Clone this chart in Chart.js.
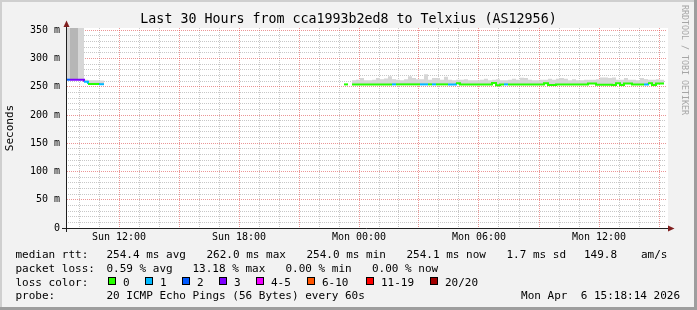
<!DOCTYPE html>
<html>
<head>
<meta charset="utf-8">
<title>Last 30 Hours from cca1993b2ed8 to Telxius (AS12956)</title>
<script src="https://cdn.jsdelivr.net/npm/chart.js@4.4.1/dist/chart.umd.min.js"></script>
<style>
  html, body { margin: 0; padding: 0; background: #f2f2f2; }
  canvas { display: block; }
</style>
</head>
<body>
<canvas id="smokeChart" width="697" height="310"></canvas>
<script>
const titleText = 'Last 30 Hours from cca1993b2ed8 to Telxius (AS12956)';

// sample start times in hours since Sun 00:00; a null value ends a run
const sampleHours = [
  9.40, 9.55, 9.95, 10.25, 10.45, 11.00, 11.25,
  23.25, 23.45,
  23.65, 23.85, 24.05, 24.25, 24.45, 24.65, 24.85, 25.05, 25.25, 25.45,
  25.65, 25.85, 26.05, 26.25, 26.45, 26.65, 26.85, 27.05, 27.25, 27.45,
  27.65, 27.85, 28.05, 28.25, 28.45, 28.65, 28.85, 29.05, 29.25, 29.45,
  29.65, 29.85, 30.05, 30.25, 30.45, 30.65, 30.85, 31.05, 31.25, 31.45,
  31.65, 31.85, 32.05, 32.25, 32.45, 32.65, 32.85, 33.05, 33.25, 33.45,
  33.65, 33.85, 34.05, 34.25, 34.45, 34.65, 34.85, 35.05, 35.25, 35.45,
  35.65, 35.85, 36.05, 36.25, 36.45, 36.65, 36.85, 37.05, 37.25, 37.45,
  37.65, 37.85, 38.05, 38.25, 38.45, 38.65, 38.85, 39.05,
  39.25
];

// median rtt in ms
const medianMs = [
  262.5, 262.5, 262.5, 259.0, 255.0, 254.5, null,
  254.2, null,
  254.2, 254.2, 254.2, 254.2, 254.2, 254.2, 254.2, 254.2, 254.2, 254.2,
  254.2, 254.2, 254.2, 254.2, 254.2, 254.2, 254.2, 254.2, 254.2, 254.2,
  254.2, 254.2, 254.2, 254.2, 254.2, 254.2, 256.0, 254.2, 254.2, 254.2,
  254.2, 254.2, 254.2, 254.2, 254.2, 256.5, 252.8, 254.2, 254.2, 254.2,
  254.2, 254.2, 254.2, 254.2, 254.2, 254.2, 254.2, 254.2, 256.0, 253.0,
  253.0, 254.2, 254.2, 254.2, 254.2, 254.2, 254.2, 254.2, 254.2, 255.8,
  255.8, 253.6, 253.6, 253.6, 253.6, 253.0, 256.0, 253.0, 255.8, 255.8,
  254.2, 254.2, 254.2, 254.2, 256.0, 253.0, 255.8, 255.8,
  null
];

// index into lossLabels / lossColors
const lossBucket = [
  2, 3, 3, 1, 0, 1, null,
  0, null,
  0, 0, 0, 0, 0, 0, 0, 0, 0, 0,
  1, 0, 0, 0, 0, 0, 0, 1, 1, 0,
  1, 0, 0, 0, 1, 1, 0, 0, 0, 0,
  0, 0, 0, 0, 0, 0, 0, 0, 1, 0,
  0, 0, 0, 0, 0, 0, 0, 0, 0, 0,
  0, 0, 0, 0, 0, 0, 0, 0, 0, 0,
  0, 0, 0, 0, 0, 0, 0, 0, 0, 0,
  0, 0, 0, 1, 0, 0, 0, 0,
  null
];

// top of the grey smoke in ms
const smokeMaxMs = [
  360, 360, 360, 262.5, 261.5, 261.0, null,
  null, null,
  261.5, 262.5, 265.5, 261.5, 261.5, 262.5, 265.5, 263.5, 264.5, 268.5,
  263.5, 262.5, 261.5, 263.5, 268.5, 265.5, 263.5, 263.5, 272.0, 262.5,
  265.5, 265.5, 262.5, 267.5, 262.5, 261.5, 262.5, 262.5, 263.5, 261.5,
  261.5, 261.5, 262.5, 264.0, 261.5, 262.5, 263.5, 261.5, 261.5, 262.5,
  264.0, 262.5, 266.0, 265.5, 262.5, 261.5, 261.5, 262.5, 262.5, 264.0,
  262.5, 264.0, 265.5, 264.0, 261.5, 263.5, 261.5, 261.5, 262.5, 262.5,
  262.5, 263.5, 266.5, 266.5, 265.5, 266.5, 262.5, 262.5, 265.5, 262.5,
  262.5, 261.5, 265.5, 263.5, 262.5, 262.5, 263.5, 262.5,
  null
];

// darker inner smoke, first run only
const smokeCoreMs = [null, 360, null, null, null, null, null];

const lossLabels = ['0', '1', '2', '3', '4-5', '6-10', '11-19', '20/20'];
const lossColors = ['#26ff00', '#00b8ff', '#0059ff', '#7e00ff', '#f000ff', '#ff5500', '#ff0000', '#a10000'];

const xLabelHours = [12, 18, 24, 30, 36];
const xTickLabels = ['Sun 12:00', 'Sun 18:00', 'Mon 00:00', 'Mon 06:00', 'Mon 12:00'];
const yLabelValues = [0, 50, 100, 150, 200, 250, 300, 350];
const yTickLabels = ['0', '50 m', '100 m', '150 m', '200 m', '250 m', '300 m', '350 m'];

const rttStats = ['254.4 ms avg', '262.0 ms max', '254.0 ms min', '254.1 ms now', '1.7 ms sd', '149.8', 'am/s'];
const lossStats = ['0.59 % avg', '13.18 % max', '0.00 % min', '0.00 % now'];
const probeText = '20 ICMP Echo Pings (56 Bytes) every 60s';
const stampText = 'Mon Apr  6 15:18:14 2026';

const mono = '"DejaVu Sans Mono", monospace';
const minorGrid = 'rgba(143,143,143,0.5)';
const majorGrid = 'rgba(222,79,79,0.6)';
const axisColor = '#1f1f1f';
const arrowColor = '#801f1f';
const hourMin = 9.35, hourMax = 39.35;

// turn the sample table into stepped runs
function runPoints(values) {
  const pts = [];
  for (let i = 0; i < sampleHours.length; i++) {
    const v = values[i] ?? null;
    const prev = i > 0 ? (values[i - 1] ?? null) : null;
    if (v !== null) {
      pts.push({x: sampleHours[i], y: v, loss: lossBucket[i]});
    } else if (prev !== null) {
      pts.push({x: sampleHours[i], y: prev, loss: lossBucket[i - 1]});
      pts.push({x: sampleHours[i], y: null});
    }
  }
  return pts;
}

function tickList(from, to, keep) {
  const t = [];
  for (let v = from; v <= to; v++) if (keep(v)) t.push({value: v});
  return t;
}

const medianPoints = runPoints(medianMs);

const frame = {
  id: 'frame',
  beforeDraw(chart) {
    const {ctx, chartArea: a, width, height} = chart;
    ctx.save();
    ctx.fillStyle = '#f2f2f2';
    ctx.fillRect(0, 0, width, height);
    ctx.fillStyle = '#cfcfcf';
    ctx.fillRect(0, 0, width, 2);
    ctx.fillRect(0, 0, 2, height);
    ctx.fillStyle = '#9e9e9e';
    ctx.fillRect(0, height - 3, width, 3);
    ctx.fillRect(width - 3, 0, 3, height);
    ctx.fillStyle = '#ffffff';
    ctx.fillRect(a.left, a.top, a.right - a.left + 2, a.bottom - a.top);
    ctx.restore();
  },
  afterDraw(chart) {
    const {ctx, chartArea: a} = chart;
    ctx.save();

    // axis extensions and arrows
    const ax = a.left + 0.5, ay = a.bottom + 0.5;
    ctx.strokeStyle = axisColor;
    ctx.lineWidth = 1;
    ctx.beginPath();
    ctx.moveTo(a.left - 4, ay); ctx.lineTo(a.left, ay);
    ctx.moveTo(a.right, ay); ctx.lineTo(669, ay);
    ctx.moveTo(ax, a.bottom); ctx.lineTo(ax, a.bottom + 4);
    ctx.moveTo(ax, a.top); ctx.lineTo(ax, 26);
    ctx.stroke();
    ctx.fillStyle = arrowColor;
    ctx.beginPath();
    ctx.moveTo(ax - 3, 27); ctx.lineTo(ax, 20.5); ctx.lineTo(ax + 3, 27);
    ctx.closePath(); ctx.fill();
    ctx.beginPath();
    ctx.moveTo(668, ay - 3); ctx.lineTo(674.5, ay); ctx.lineTo(668, ay + 3);
    ctx.closePath(); ctx.fill();

    // title
    ctx.fillStyle = '#000';
    ctx.font = '13.3px ' + mono;
    ctx.textAlign = 'center';
    ctx.textBaseline = 'alphabetic';
    ctx.fillText(titleText, 348.5, 23);

    // legend rows
    ctx.font = '11px ' + mono;
    ctx.textAlign = 'left';
    const rttCols = [106.5, 206.5, 306.5, 406.5, 506.5, 584, 641];
    ctx.fillText('median rtt:', 15.5, 258);
    rttStats.forEach((t, i) => ctx.fillText(t, rttCols[i], 258));

    const lossCols = [106.5, 192.5, 285.5, 372];
    ctx.fillText('packet loss:', 15.5, 272);
    lossStats.forEach((t, i) => ctx.fillText(t, lossCols[i], 272));

    const boxCols = [108, 145, 182, 219, 256, 307, 366, 430];
    ctx.fillText('loss color:', 15.5, 285.5);
    lossLabels.forEach((t, i) => {
      ctx.fillStyle = lossColors[i];
      ctx.fillRect(boxCols[i], 277, 8, 8);
      ctx.strokeStyle = '#000';
      ctx.strokeRect(boxCols[i] + 0.5, 277.5, 7, 7);
      ctx.fillStyle = '#000';
      ctx.fillText(t, boxCols[i] + 15, 285.5);
    });

    ctx.fillText('probe:', 15.5, 299);
    ctx.fillText(probeText, 106.5, 299);
    ctx.textAlign = 'right';
    ctx.fillText(stampText, 680, 299);

    // watermark
    ctx.translate(684, 5);
    ctx.rotate(Math.PI / 2);
    ctx.font = '8.3px ' + mono;
    ctx.fillStyle = '#a6a6a6';
    ctx.textAlign = 'left';
    ctx.textBaseline = 'middle';
    ctx.fillText('RRDTOOL / TOBI OETIKER', 0, 0);
    ctx.restore();
  }
};

const dotted = { display: false, dash: [1, 1], dashOffset: 0 };

new Chart(document.getElementById('smokeChart'), {
  type: 'line',
  data: {
    datasets: [
      {
        label: 'median',
        data: medianPoints,
        stepped: true,
        spanGaps: false,
        borderWidth: 2,
        borderColor: lossColors[0],
        borderCapStyle: 'butt',
        pointRadius: 0,
        fill: false,
        segment: {
          borderColor: c => lossColors[medianPoints[c.p0DataIndex].loss ?? 0]
        }
      },
      {
        label: 'smoke core',
        data: runPoints(smokeCoreMs),
        stepped: true,
        spanGaps: false,
        borderWidth: 0,
        borderColor: 'rgba(0,0,0,0)',
        pointRadius: 0,
        backgroundColor: '#b6b6b6',
        fill: 0
      },
      {
        label: 'smoke',
        data: runPoints(smokeMaxMs),
        stepped: true,
        spanGaps: false,
        borderWidth: 0,
        borderColor: 'rgba(0,0,0,0)',
        pointRadius: 0,
        backgroundColor: '#d6d6d6',
        fill: 0
      }
    ]
  },
  options: {
    responsive: false,
    animation: false,
    events: [],
    layout: { padding: { left: 0, top: 28, right: 31, bottom: 62 } },
    plugins: {
      legend: { display: false },
      tooltip: { enabled: false },
      title: { display: false }
    },
    scales: {
      xMinor: {
        type: 'linear',
        position: 'bottom',
        min: hourMin,
        max: hourMax,
        bounds: 'data',
        offset: false,
        afterFit: s => { s.height = 0; },
        afterBuildTicks: s => { s.ticks = tickList(10, 39, h => h % 3 !== 0); },
        grid: { drawTicks: false, lineWidth: 1, color: minorGrid },
        border: dotted,
        ticks: { display: false, autoSkip: false }
      },
      x: {
        type: 'linear',
        position: 'bottom',
        min: hourMin,
        max: hourMax,
        bounds: 'data',
        offset: false,
        afterFit: s => { s.height = 20; },
        afterBuildTicks: s => { s.ticks = tickList(10, 39, h => h % 3 === 0); },
        grid: { drawTicks: false, lineWidth: 1, color: majorGrid },
        border: { display: true, color: axisColor, width: 1, dash: [1, 1], dashOffset: 0 },
        ticks: {
          autoSkip: false,
          maxRotation: 0,
          minRotation: 0,
          padding: 3,
          color: '#000',
          font: { family: mono, size: 10 },
          callback: v => {
            const i = xLabelHours.indexOf(Math.round(v));
            return i >= 0 ? xTickLabels[i] : '';
          }
        }
      },
      yMinor: {
        type: 'linear',
        position: 'left',
        min: 0,
        max: 354,
        bounds: 'data',
        afterFit: s => { s.width = 0; },
        afterBuildTicks: s => { s.ticks = tickList(1, 35, k => k % 5 !== 0).map(t => ({value: t.value * 10})); },
        grid: { drawTicks: false, lineWidth: 1, color: minorGrid },
        border: dotted,
        ticks: { display: false, autoSkip: false }
      },
      y: {
        type: 'linear',
        position: 'left',
        min: 0,
        max: 354,
        bounds: 'data',
        afterFit: s => { s.width = 66; },
        afterBuildTicks: s => { s.ticks = yLabelValues.map(v => ({value: v})); },
        grid: { drawTicks: false, lineWidth: 1, color: majorGrid },
        border: { display: true, color: axisColor, width: 1, dash: [1, 1], dashOffset: 0 },
        title: {
          display: true,
          text: 'Seconds',
          color: '#000',
          font: { family: mono, size: 11 },
          padding: { top: 4, bottom: 0 }
        },
        ticks: {
          autoSkip: false,
          padding: 6,
          color: '#000',
          font: { family: mono, size: 10 },
          callback: v => {
            const i = yLabelValues.indexOf(Math.round(v));
            return i >= 0 ? yTickLabels[i] : '';
          }
        }
      }
    }
  },
  plugins: [frame]
});
</script>
</body>
</html>
